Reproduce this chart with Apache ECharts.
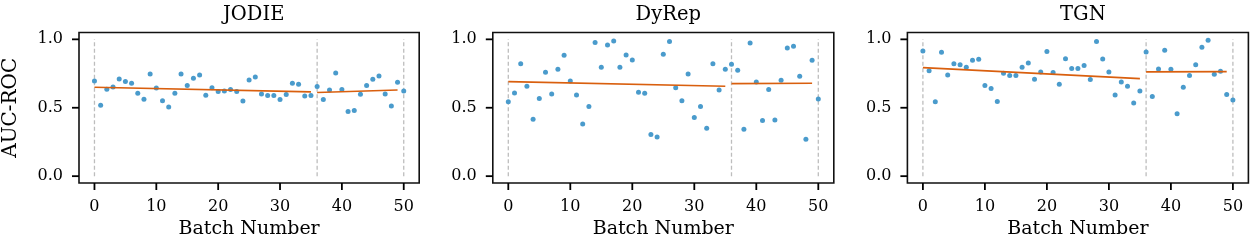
<!DOCTYPE html>
<html>
<head>
<meta charset="utf-8">
<script src="https://cdn.jsdelivr.net/npm/echarts@6/dist/echarts.min.js"></script>
<style>
  html, body { margin: 0; padding: 0; background: #fff; }
  #chart { width: 1250px; height: 250px; }
</style>
</head>
<body>
<div id="chart"></div>
<script>
// ---- data ----
const panelTitles = ['JODIE', 'DyRep', 'TGN'];
const batches = Array.from({length: 51}, (_, i) => i);
const jodieAUC = [0.696,0.518,0.635,0.652,0.710,0.691,0.679,0.606,0.562,0.747,
  0.645,0.552,0.506,0.606,0.747,0.662,0.715,0.740,0.591,0.647,
  0.618,0.623,0.633,0.618,0.550,0.703,0.725,0.601,0.589,0.589,
  0.560,0.596,0.679,0.672,0.586,0.589,0.655,0.560,0.630,0.754,
  0.633,0.472,0.479,0.599,0.662,0.708,0.732,0.601,0.513,0.686,0.623];
const dyrepAUC = [0.543,0.608,0.822,0.657,0.416,0.567,0.759,0.601,0.781,0.883,
  0.696,0.594,0.382,0.509,0.976,0.796,0.959,0.988,0.796,0.886,
  0.849,0.613,0.606,0.304,0.287,0.891,0.985,0.647,0.552,0.747,
  0.428,0.509,0.350,0.822,0.630,0.781,0.818,0.774,0.343,0.973,
  0.689,0.406,0.633,0.411,0.701,0.937,0.949,0.730,0.270,0.847,0.564];
const tgnAUC = [0.915,0.771,0.543,0.905,0.740,0.822,0.815,0.796,0.847,0.854,
  0.662,0.640,0.545,0.752,0.735,0.735,0.796,0.827,0.708,0.762,
  0.912,0.757,0.672,0.859,0.786,0.786,0.808,0.706,0.985,0.856,
  0.762,0.594,0.689,0.657,0.535,0.623,0.908,0.582,0.783,0.920,
  0.781,0.457,0.650,0.735,0.815,0.942,0.993,0.745,0.766,0.596,0.557];
const seriesAUC = [jodieAUC, dyrepAUC, tgnAUC];
// trend segments: [x0, y0, x1, y1]
const trendSegA = [[0,0.650,35,0.616],[0,0.691,35,0.657],[0,0.793,35,0.713]];
const trendSegB = [[36,0.611,49,0.630],[36,0.676,49,0.679],[36,0.762,49,0.764]];
const changePoints = [0, 36, 50];
const xTicks = [0, 10, 20, 30, 40, 50];
const yTicks = [0, 0.5, 1.0];

// ---- layout ----
const X_MIN = -2.5, X_MAX = 52.5, Y_MIN = -0.05, Y_MAX = 1.05;
const gridLefts = [78.2, 492.8, 907.4];
const gridW = 341;
const gridTop = 32.5;
const gridH = 150.5;
const FONT = 'DejaVu Serif';
const TICK_LEN = 7;

const grids = [], xAxes = [], yAxes = [], series = [], titles = [];
for (let p = 0; p < 3; p++) {
  grids.push({left: gridLefts[p], top: gridTop, width: gridW, height: gridH,
    show: true, borderColor: '#111', borderWidth: 1.6, backgroundColor: 'transparent', containLabel: false});
  titles.push({text: panelTitles[p], left: gridLefts[p] + gridW / 2, top: 0, textAlign: 'center',
    textStyle: {fontFamily: FONT, fontSize: 19.5, fontWeight: 'normal', color: '#000'}});
  xAxes.push({type: 'value', gridIndex: p, min: X_MIN, max: X_MAX, position: 'bottom',
    name: 'Batch Number', nameLocation: 'middle', nameGap: 36,
    nameTextStyle: {fontFamily: FONT, fontSize: 19, color: '#000'},
    axisLine: {show: false, onZero: false}, splitLine: {show: false},
    axisTick: {show: false},
    axisLabel: {customValues: xTicks, margin: 16, fontFamily: FONT, fontSize: 16, color: '#000'}});
  yAxes.push({type: 'value', gridIndex: p, min: Y_MIN, max: Y_MAX, position: 'left',
    name: p === 0 ? 'AUC-ROC' : '', nameLocation: 'middle', nameGap: 58, nameRotate: 90,
    nameTextStyle: {fontFamily: FONT, fontSize: 20, color: '#000'},
    axisLine: {show: false, onZero: false}, splitLine: {show: false},
    axisTick: {show: false},
    axisLabel: {customValues: yTicks, margin: 16, fontFamily: FONT, fontSize: 16, color: '#000',
      formatter: v => v.toFixed(1)}});
  // tick marks (outward), positioned through the axes' scales
  series.push({type: 'line', xAxisIndex: p, yAxisIndex: p, clip: false, silent: true, z: 5,
    data: xTicks.map(t => [t, Y_MIN]), symbol: 'rect', symbolSize: [1.8, TICK_LEN], showSymbol: true,
    symbolOffset: [0, TICK_LEN / 2],
    lineStyle: {width: 0, opacity: 0}, itemStyle: {color: '#000'}});
  series.push({type: 'line', xAxisIndex: p, yAxisIndex: p, clip: false, silent: true, z: 5,
    data: yTicks.map(t => [X_MIN, t]), symbol: 'rect', symbolSize: [TICK_LEN, 1.8], showSymbol: true,
    symbolOffset: [-TICK_LEN / 2, 0],
    lineStyle: {width: 0, opacity: 0}, itemStyle: {color: '#000'}});
  changePoints.forEach(c => {
    series.push({type: 'line', xAxisIndex: p, yAxisIndex: p, data: [[c, 0], [c, 1]],
      symbol: 'none', silent: true, z: 1,
      lineStyle: {color: '#bdbdbd', width: 1.3, type: [4, 2.5]}});
  });
  series.push({type: 'scatter', xAxisIndex: p, yAxisIndex: p, z: 3,
    data: batches.map((b, i) => [b, seriesAUC[p][i]]),
    symbolSize: 5, itemStyle: {color: '#4a9bcc', opacity: 1}});
  [trendSegA[p], trendSegB[p]].forEach(s => {
    series.push({type: 'line', xAxisIndex: p, yAxisIndex: p, z: 4,
      data: [[s[0], s[1]], [s[2], s[3]]], symbol: 'none', silent: true,
      lineStyle: {color: '#d95f0e', width: 1.6}});
  });
}

const chart = echarts.init(document.getElementById('chart'), null, {renderer: 'canvas'});
chart.setOption({
  animation: false,
  backgroundColor: '#fff',
  title: titles,
  grid: grids,
  xAxis: xAxes,
  yAxis: yAxes,
  series: series
});
</script>
</body>
</html>
